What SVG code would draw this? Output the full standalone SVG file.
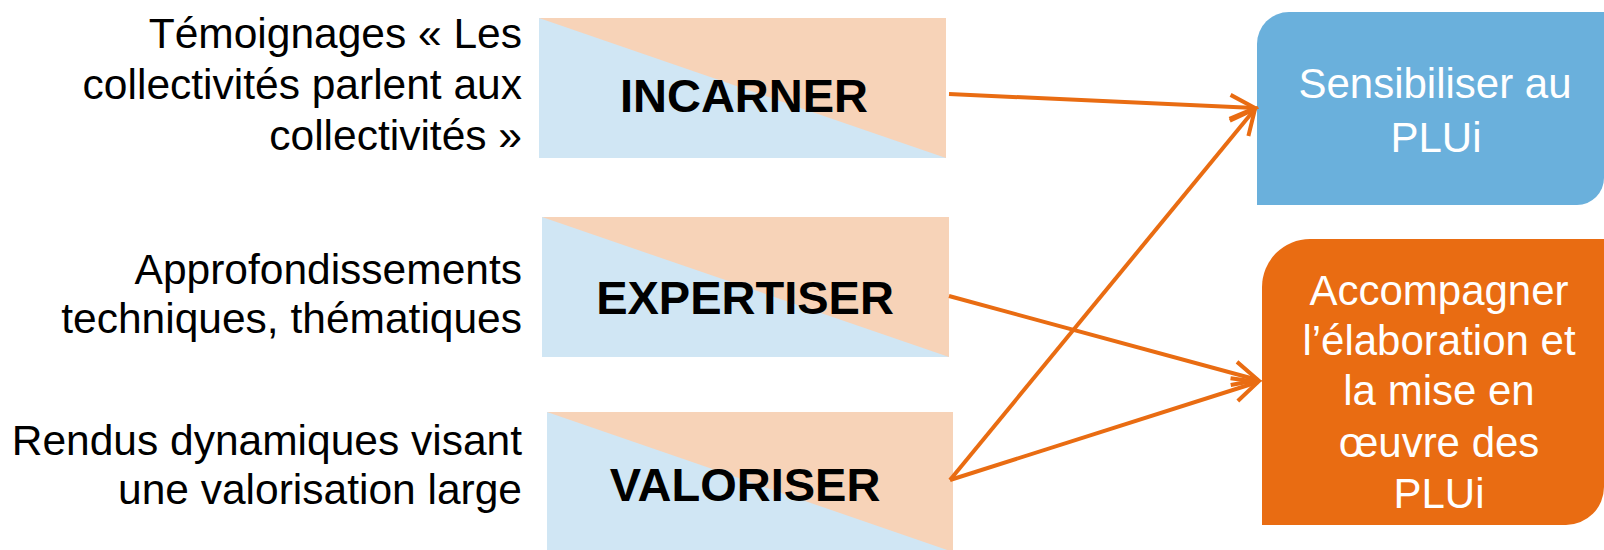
<svg xmlns="http://www.w3.org/2000/svg" width="1604" height="550" viewBox="0 0 1604 550">
<style>
.lbl{font-family:"Liberation Sans",Arial,sans-serif;font-size:42.5px;fill:#000;text-anchor:end}
.box-b{fill:#D0E6F4}
.box-p{fill:#F7D3B8}
.verb{font-family:"Liberation Sans",Arial,sans-serif;font-size:47px;font-weight:bold;fill:#000;text-anchor:middle}
.goal{font-family:"Liberation Sans",Arial,sans-serif;font-size:42px;fill:#fff;text-anchor:middle}
.conn{fill:none;stroke:#E96C12;stroke-width:4}
</style>
<defs>
<marker id="arr" markerUnits="userSpaceOnUse" viewBox="-30 -15 34 30" refX="0" refY="0" markerWidth="34" markerHeight="30" orient="auto">
<path d="M -25 -12 L 0 0 L -25 12" fill="none" stroke="#E96C12" stroke-width="4" stroke-linejoin="miter"/>
</marker>
</defs>
<rect width="1604" height="550" fill="#fff"/>

<g id="label-temoignages">
<text class="lbl" x="522" y="48">Témoignages « Les</text>
<text class="lbl" x="522" y="99">collectivités parlent aux</text>
<text class="lbl" x="522" y="150">collectivités »</text>
</g>
<g id="label-approfondissements">
<text class="lbl" x="522" y="284">Approfondissements</text>
<text class="lbl" x="522" y="333">techniques, thématiques</text>
</g>
<g id="label-rendus">
<text class="lbl" x="522" y="455">Rendus dynamiques visant</text>
<text class="lbl" x="522" y="504">une valorisation large</text>
</g>

<g id="node-incarner">
<rect class="box-b" x="539" y="18" width="407" height="140"/>
<polygon class="box-p" points="539,18 946,18 946,158"/>
<text class="verb" x="744" y="112">INCARNER</text>
</g>
<g id="node-expertiser">
<rect class="box-b" x="542" y="217" width="407" height="140"/>
<polygon class="box-p" points="542,217 949,217 949,357"/>
<text class="verb" x="745" y="314">EXPERTISER</text>
</g>
<g id="node-valoriser">
<rect class="box-b" x="547" y="412" width="406" height="140"/>
<polygon class="box-p" points="547,412 953,412 953,552"/>
<text class="verb" x="745" y="501">VALORISER</text>
</g>

<g id="node-sensibiliser">
<path d="M1257,44 A32,32 0 0 1 1289,12 L1604,12 L1604,178 A27,27 0 0 1 1577,205 L1257,205 Z" fill="#6AB0DC"/>
<text class="goal" x="1435" y="98">Sensibiliser au</text>
<text class="goal" x="1436" y="152">PLUi</text>
</g>
<g id="node-accompagner">
<path d="M1262,287 A48,48 0 0 1 1310,239 L1604,239 L1604,487 A38,38 0 0 1 1566,525 L1262,525 Z" fill="#E96C12"/>
<text class="goal" x="1439" y="305">Accompagner</text>
<text class="goal" x="1439" y="355">l’élaboration et</text>
<text class="goal" x="1439" y="405">la mise en</text>
<text class="goal" x="1439" y="457">œuvre des</text>
<text class="goal" x="1439" y="508">PLUi</text>
</g>

<g id="connectors">
<line class="conn" x1="949" y1="94" x2="1255" y2="108" marker-end="url(#arr)"/>
<line class="conn" x1="950" y1="480" x2="1255" y2="109" marker-end="url(#arr)"/>
<line class="conn" x1="949" y1="296" x2="1258" y2="380" marker-end="url(#arr)"/>
<line class="conn" x1="950" y1="480" x2="1258" y2="382" marker-end="url(#arr)"/>
</g>
</svg>
